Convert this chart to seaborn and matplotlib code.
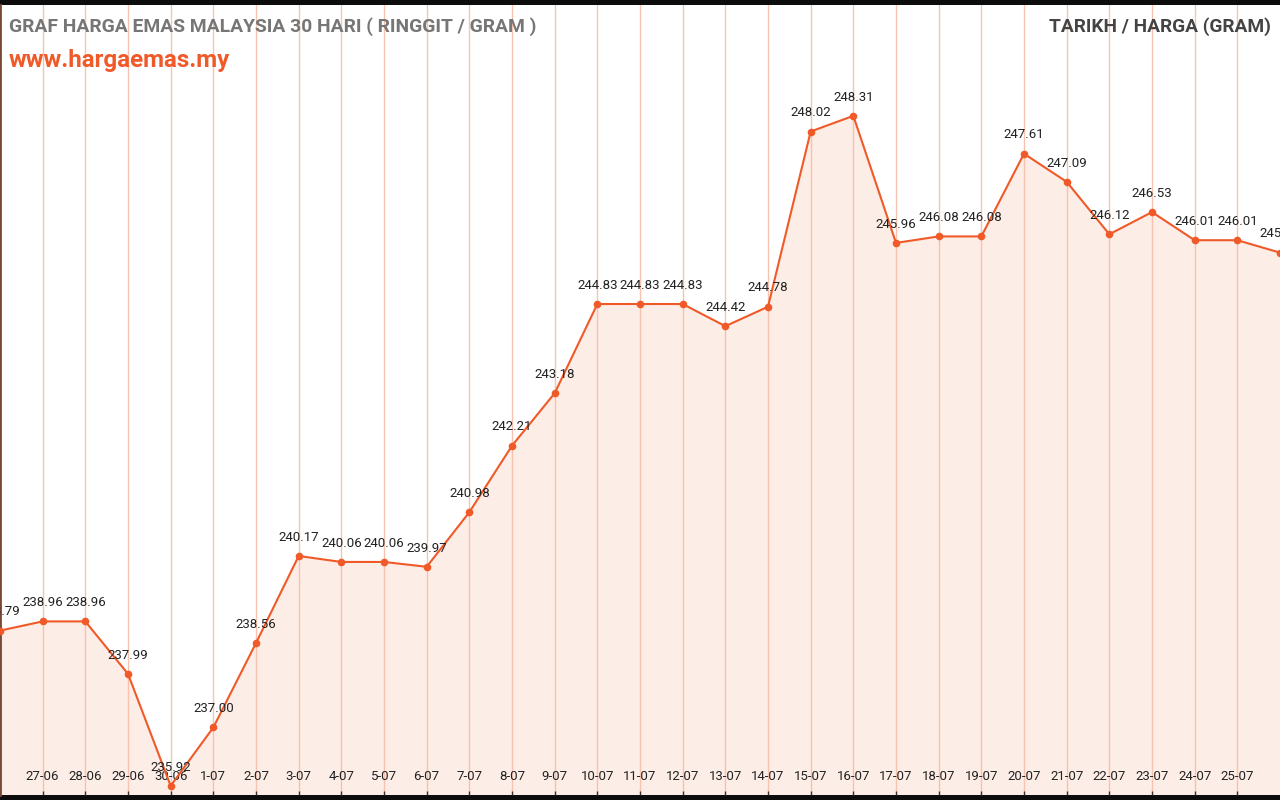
import matplotlib

matplotlib.use("Agg")
import matplotlib.pyplot as plt
import pandas as pd
import seaborn as sns

# harga emas 30 hari (RM / gram)
dates = [
    "26-06", "27-06", "28-06", "29-06", "30-06", "1-07", "2-07", "3-07", "4-07", "5-07",
    "6-07", "7-07", "8-07", "9-07", "10-07", "11-07", "12-07", "13-07", "14-07", "15-07",
    "16-07", "17-07", "18-07", "19-07", "20-07", "21-07", "22-07", "23-07", "24-07", "25-07",
    "26-07",
]
prices = [
    238.79, 238.96, 238.96, 237.99, 235.92, 237.00, 238.56, 240.17, 240.06, 240.06,
    239.97, 240.98, 242.21, 243.18, 244.83, 244.83, 244.83, 244.42, 244.78, 248.02,
    248.31, 245.96, 246.08, 246.08, 247.61, 247.09, 246.12, 246.53, 246.01, 246.01,
    245.78,
]

LINE = "#f05a28"
FILL = "#fdede7"
GRID = "#f8c2ae"

df = pd.DataFrame({"idx": range(len(dates)), "tarikh": dates, "harga": prices})

sns.set_theme(style="white")
plt.rcParams["font.family"] = ["Roboto", "DejaVu Sans"]

fig = plt.figure(figsize=(12.8, 8), dpi=100, facecolor="#0c0c0c")
ax = fig.add_axes([0, 5 / 800, 1, 790 / 800])
ax.set_facecolor("white")

# fill first, axis (grid + tick labels) drawn above it
ax.fill_between(df["idx"], df["harga"], 230, color=FILL, zorder=1)
sns.lineplot(data=df, x="idx", y="harga", ax=ax, color=LINE, linewidth=1.5,
             marker="o", markersize=5.5, markeredgewidth=0, zorder=3)

for i, v in zip(df["idx"], df["harga"]):
    ax.annotate(f"{v:.2f}", (i, v), xytext=(0, 13.5), textcoords="offset points",
                ha="center", va="center", fontsize=9.5, color="#222222", zorder=4)

ax.set_xlim(0, len(dates) - 1)
ax.set_ylim(235.75, 250.36)
ticks = list(range(1, len(dates) - 1))
ax.set_xticks(ticks)
ax.set_xticklabels([dates[i] for i in ticks])
ax.set_yticks([])
ax.tick_params(axis="x", direction="in", length=3, width=1, color="#333333",
               pad=-18, labelsize=9.5, labelcolor="#222222", bottom=True)
ax.grid(axis="x", color=GRID, linewidth=1)
ax.set_axisbelow(False)
ax.set_xlabel("")
ax.set_ylabel("")

for side in ["top", "right", "bottom"]:
    ax.spines[side].set_visible(False)
ax.spines["left"].set_color("#7a4636")
ax.spines["left"].set_linewidth(2)

ax.text(9 / 1280, 1 - 22 / 790, "GRAF HARGA EMAS MALAYSIA 30 HARI ( RINGGIT / GRAM )",
        transform=ax.transAxes, ha="left", va="center", fontsize=13.9,
        fontweight="bold", color="#767676", zorder=5)
ax.text(9 / 1280, 1 - 55 / 790, "www.hargaemas.my", transform=ax.transAxes,
        ha="left", va="center", fontsize=17.4, fontweight="bold", color=LINE, zorder=5)
ax.text(1 - 9 / 1280, 1 - 22 / 790, "TARIKH / HARGA (GRAM)", transform=ax.transAxes,
        ha="right", va="center", fontsize=13.8, fontweight="bold", color="#444444", zorder=5)

fig.savefig("out.png", dpi=100, facecolor=fig.get_facecolor())
